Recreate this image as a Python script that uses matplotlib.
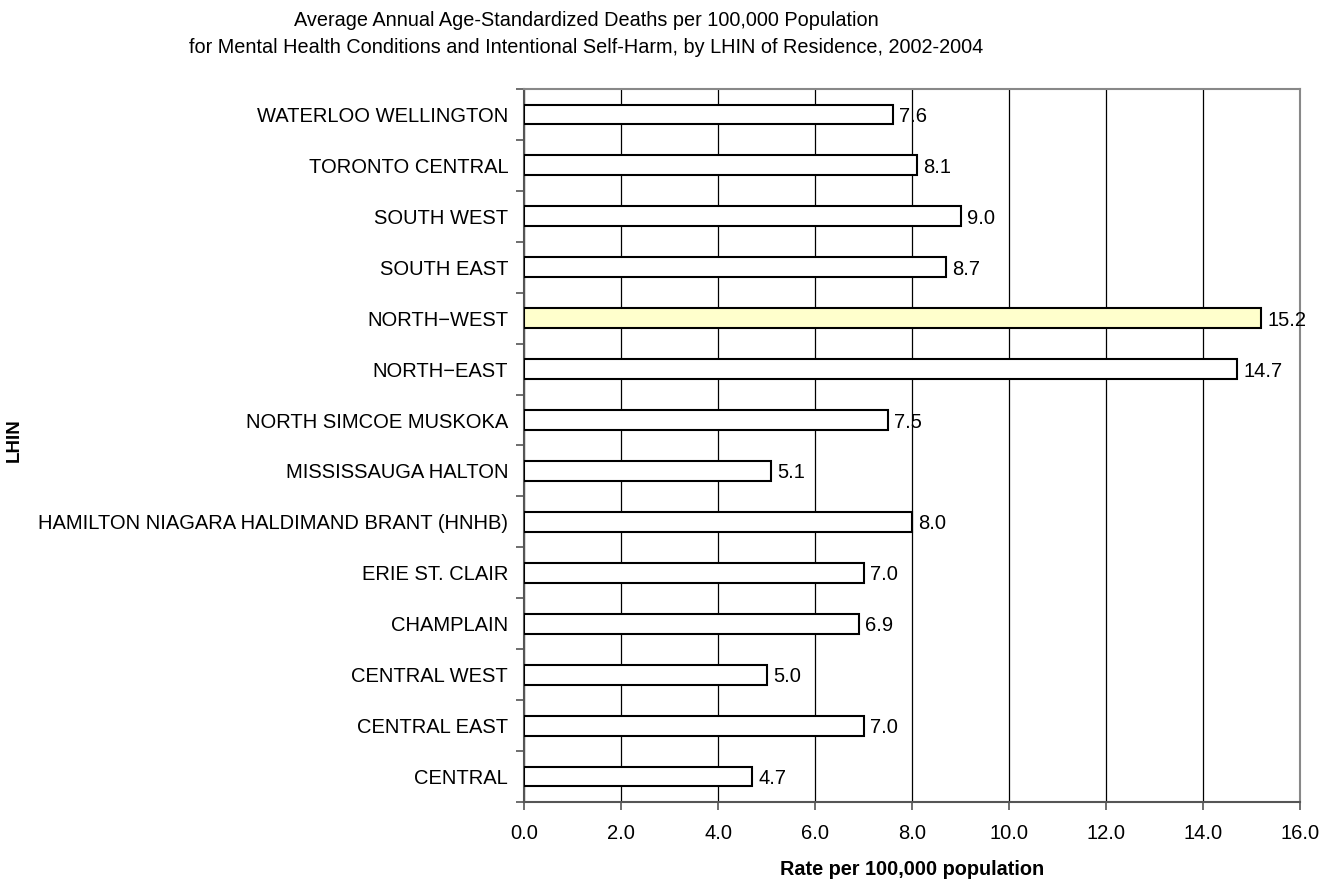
import matplotlib
matplotlib.use("Agg")
import matplotlib.pyplot as plt
from matplotlib.ticker import MultipleLocator, FormatStrFormatter

plt.rcParams['font.family'] = ['Liberation Sans', 'DejaVu Sans']

# LHIN regions, bottom to top
regions = [
    "CENTRAL", "CENTRAL EAST", "CENTRAL WEST", "CHAMPLAIN", "ERIE ST. CLAIR",
    "HAMILTON NIAGARA HALDIMAND BRANT (HNHB)", "MISSISSAUGA HALTON",
    "NORTH SIMCOE MUSKOKA", "NORTH\u2212EAST", "NORTH\u2212WEST",
    "SOUTH EAST", "SOUTH WEST", "TORONTO CENTRAL", "WATERLOO WELLINGTON",
]
rates = [4.7, 7.0, 5.0, 6.9, 7.0, 8.0, 5.1, 7.5, 14.7, 15.2, 8.7, 9.0, 8.1, 7.6]
highlight = "NORTH\u2212WEST"

fig = plt.figure(figsize=(13.37, 8.8), dpi=100)
ax = fig.add_axes([0.392, 0.0886, 0.5803, 0.8103])

colors = ["#FFFFCC" if r == highlight else "white" for r in regions]
ypos = list(range(len(regions)))
ax.barh(ypos, rates, height=0.39, color=colors, edgecolor="black",
        linewidth=1.5, zorder=3)

for y, v in zip(ypos, rates):
    ax.text(v + 0.13, y, f"{v:.1f}", va="center_baseline", ha="left",
            fontsize=14.5, zorder=4)

ax.set_xlim(0, 16)
ax.set_ylim(-0.5, len(regions) - 0.5)
ax.xaxis.set_major_locator(MultipleLocator(2))
ax.xaxis.set_major_formatter(FormatStrFormatter("%.1f"))
ax.set_yticks(ypos)
ax.set_yticklabels(regions)
ax.set_yticks([y - 0.5 for y in ypos] + [len(regions) - 0.5], minor=True)
ax.tick_params(axis="y", which="major", length=0, pad=11.5, labelsize=14.5)
ax.tick_params(axis="y", which="minor", length=6, width=1.2, color="#555555")
ax.tick_params(axis="x", which="major", length=6, width=1.2, color="#555555",
               labelsize=14.5, pad=10)

ax.grid(axis="x", color="black", linewidth=0.9, zorder=0)
for side in ["top", "right"]:
    ax.spines[side].set_color("#888888")
    ax.spines[side].set_linewidth(1.5)
for side in ["left", "bottom"]:
    ax.spines[side].set_color("#555555")
    ax.spines[side].set_linewidth(1.5)

ax.set_xlabel("Rate per 100,000 population", fontsize=14.3, fontweight="bold",
              labelpad=12)
fig.text(0.0105, 0.5, "LHIN", rotation=90, va="center", ha="center",
         fontsize=13.5, fontweight="bold")
fig.text(0.4383, 0.9875,
         "Average Annual Age-Standardized Deaths per 100,000 Population\n"
         "for Mental Health Conditions and Intentional Self-Harm, by LHIN of Residence, 2002-2004",
         ha="center", va="top", fontsize=14.3, linespacing=1.55)

fig.savefig("out.png", dpi=100)
